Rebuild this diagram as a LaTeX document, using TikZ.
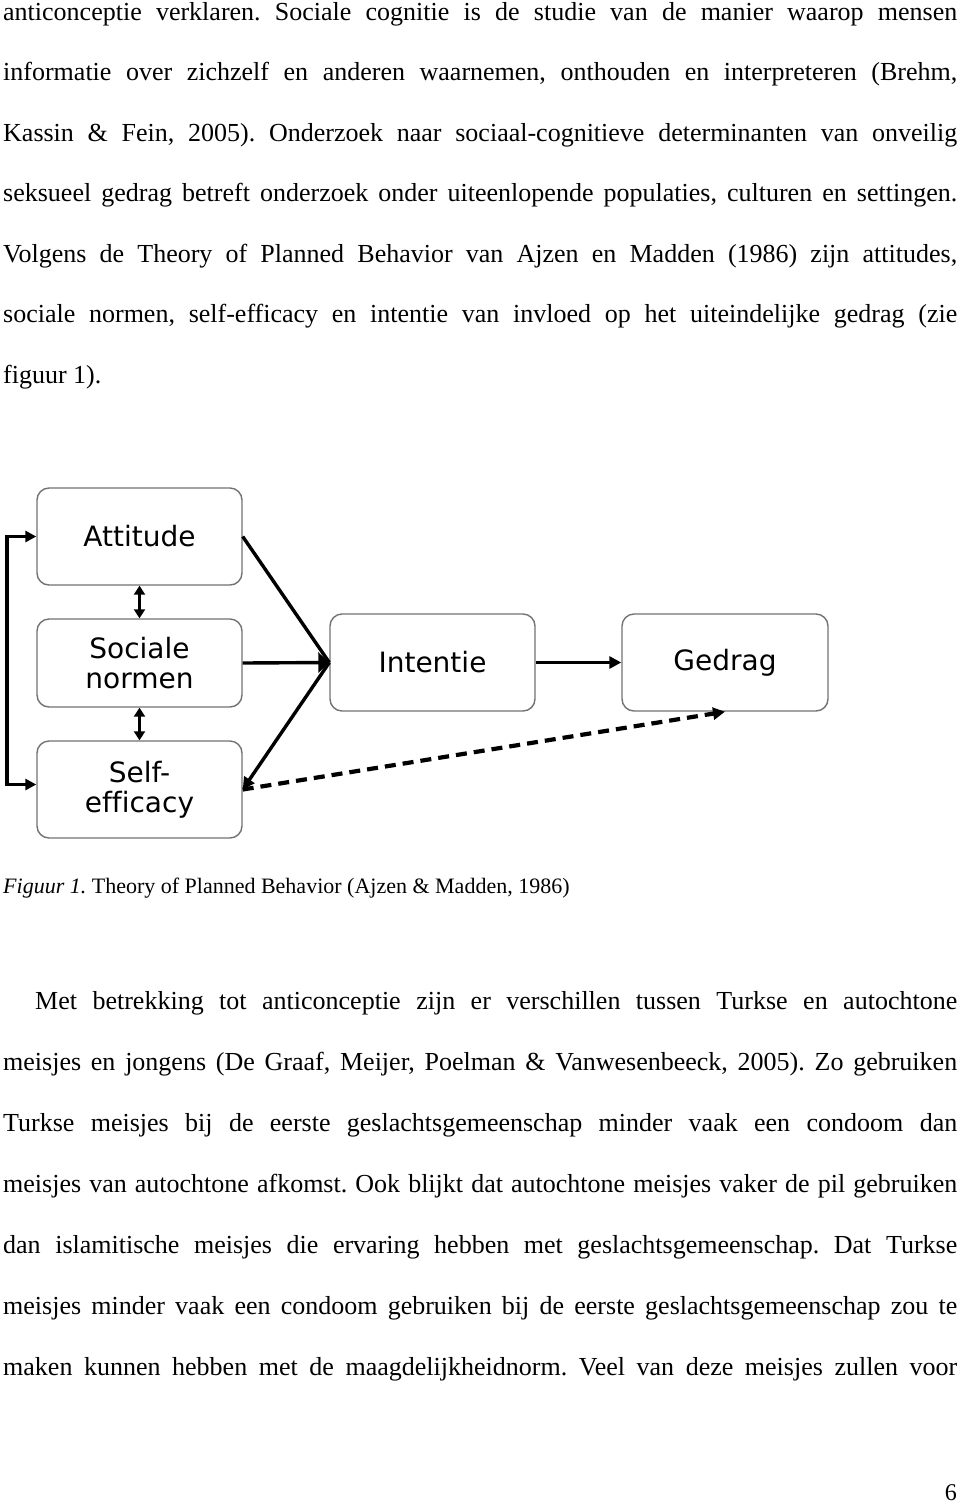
\documentclass[tikz,border=0pt]{standalone}
\usepackage{fontspec}
\setmainfont{Liberation Serif}
\newfontfamily\boxfont[Ligatures=NoCommon]{DejaVu Sans}
\usetikzlibrary{arrows.meta}
\frenchspacing
\begin{document}
\frenchspacing
\begin{tikzpicture}[x=1pt,y=-1pt,
  txt/.style={anchor=base west, inner sep=0pt, font=\fontsize{26}{26}\selectfont},
  box/.style={draw=black!55, line width=1.4pt, rounded corners=12pt, minimum width=205pt,
    align=center, inner sep=0pt, font=\boxfont\fontsize{28}{30}\selectfont},
  con/.style={line width=3.4pt, line join=miter},
  tipS/.style={-{Triangle[length=12pt,width=12pt]}},
  tipD/.style={{Triangle[length=9pt,width=11pt]}-{Triangle[length=9pt,width=11pt]}}]
\useasboundingbox[fill=white] (0,0) rectangle (960,1505);

% first paragraph
\node[txt] (l1) at (3,20) {\makebox[954pt][s]{anticonceptie verklaren. Sociale cognitie is de studie van de manier waarop mensen}};
\node[txt] (l2) at (3,80.5) {\makebox[954pt][s]{informatie over zichzelf en anderen waarnemen, onthouden en interpreteren (Brehm,}};
\node[txt] (l3) at (3,141) {\makebox[954pt][s]{Kassin \& Fein, 2005). Onderzoek naar sociaal-cognitieve determinanten van onveilig}};
\node[txt] (l4) at (3,201.5) {\makebox[954pt][s]{seksueel gedrag betreft onderzoek onder uiteenlopende populaties, culturen en settingen.}};
\node[txt] (l5) at (3,262) {\makebox[954pt][s]{Volgens de Theory of Planned Behavior van Ajzen en Madden (1986) zijn attitudes,}};
\node[txt] (l6) at (3,322.5) {\makebox[954pt][s]{sociale normen, self-efficacy en intentie van invloed op het uiteindelijke gedrag (zie}};
\node[txt] (l7) at (3,383) {figuur 1).};

% diagram boxes
\node[box, minimum height=97pt] (att) at (139.5,536.5) {Attitude};
\node[box, minimum height=88pt] (soc) at (139.5,663) {Sociale\\normen};
\node[box, minimum height=97pt] (self) at (139.5,789.5) {Self-\\efficacy};
\node[box, minimum height=97pt] (int) at (432.5,662.5) {Intentie};
\node[box, minimum width=206pt, minimum height=97pt] (ged) at (725,662.5) {Gedrag};

% connectors
\draw[con, tipS] (int.east) -- (ged.west);
\draw[con] (att.east) -- (int.west);
\draw[con, -{Triangle[length=11pt,width=20pt]}] (soc.east) -- (int.west);
\draw[con, tipS] (int.west) -- (self.east);
\draw[line width=4.2pt, dash pattern=on 11pt off 7pt, tipS] (self.east) -- (ged.south);
\draw[con, tipD] (att.south) -- (soc.north);
\draw[con, tipD] (soc.south) -- (self.north);
\draw[line width=3.8pt, line join=miter, {Triangle[length=11pt,width=11pt]}-{Triangle[length=11pt,width=11pt]}]
  ([yshift=5pt]self.west) -- ++(-29,0) |- (att.west);

% caption
\node[anchor=base west, inner sep=0pt, font=\fontsize{22}{22}\selectfont] (cap) at (3,893)
  {\textit{Figuur 1.} Theory of Planned Behavior (Ajzen \& Madden, 1986)};

% second paragraph
\node[txt] (m1) at (35,1009) {\makebox[922pt][s]{Met betrekking tot anticonceptie zijn er verschillen tussen Turkse en autochtone}};
\node[txt] (m2) at (3,1070) {\makebox[954pt][s]{meisjes en jongens (De Graaf, Meijer, Poelman \& Vanwesenbeeck, 2005). Zo gebruiken}};
\node[txt] (m3) at (3,1131) {\makebox[954pt][s]{Turkse meisjes bij de eerste geslachtsgemeenschap minder vaak een condoom dan}};
\node[txt] (m4) at (3,1192) {\makebox[954pt][s]{meisjes van autochtone afkomst. Ook blijkt dat autochtone meisjes vaker de pil gebruiken}};
\node[txt] (m5) at (3,1253) {\makebox[954pt][s]{dan islamitische meisjes die ervaring hebben met geslachtsgemeenschap. Dat Turkse}};
\node[txt] (m6) at (3,1314) {\makebox[954pt][s]{meisjes minder vaak een condoom gebruiken bij de eerste geslachtsgemeenschap zou te}};
\node[txt] (m7) at (3,1375) {\makebox[954pt][s]{maken kunnen hebben met de maagdelijkheidnorm. Veel van deze meisjes zullen voor}};

% page number
\node[anchor=base east, inner sep=0pt, font=\fontsize{24}{24}\selectfont] (pg) at (957,1500) {6};
\end{tikzpicture}
\end{document}
